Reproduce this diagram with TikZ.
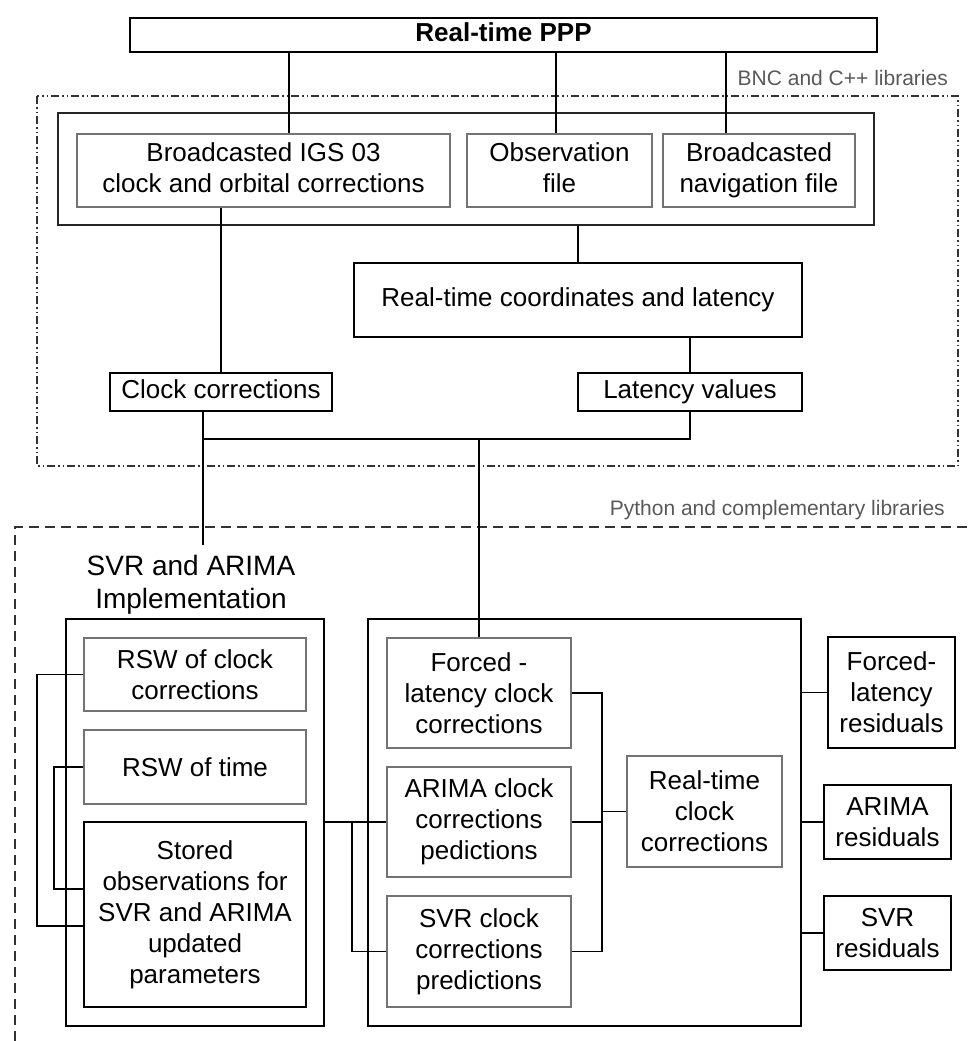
\documentclass[tikz,border=0pt]{standalone}
\usepackage{fontspec}
\setmainfont{Liberation Sans}
\newcommand\fsMain{\fontsize{26}{31}\selectfont}
\newcommand\fsHead{\fontsize{28}{33}\selectfont}
\newcommand\fsLab{\fontsize{21}{25}\selectfont}
\begin{document}
\begin{tikzpicture}[x=1pt,y=-1pt,
  bbox/.style={draw=black, line width=1.5pt, inner sep=0pt, align=center, font=\fsMain},
  gbox/.style={draw=black!55, line width=1.1pt, inner sep=0pt, align=center, font=\fsMain},
  conn/.style={draw=black, line width=1.3pt},
  lab/.style={inner sep=0pt, font=\fsLab, text=black!65},
  dashdotframe/.style={draw=black!80, line width=1.2pt, dash pattern=on 8pt off 3pt on 1.5pt off 3pt on 1.5pt off 3pt},
  dashframe/.style={draw=black!80, line width=1.2pt, dash pattern=on 10pt off 6pt}]
\useasboundingbox (0,0) rectangle (971,1041);
\fill[white] (0,0) rectangle (971,1041);

% frames
\draw[dashdotframe] (37,96) rectangle (958,466);
\draw[dashframe] (15,1041) -- (15,527) -- (971,527);
\node[lab, anchor=base east] (bnclab) at (948,85) {BNC and C++ libraries};
\node[lab, anchor=base east] (pylab) at (945,515) {Python and complementary libraries};

% top part
\node[bbox, line width=2pt, minimum width=747pt, minimum height=34pt, font=\fsMain\bfseries] (ppp) at (503.5,35) {Real-time PPP\vphantom{g}};
\node[draw=black!85, line width=2pt, minimum width=816pt, minimum height=112pt, inner sep=0pt] (outer1) at (466,169) {};
\node[gbox, minimum width=373pt, minimum height=73pt] (igs) at (263.5,170.5) {Broadcasted IGS 03\\clock and orbital corrections\vphantom{g}};
\node[gbox, minimum width=185pt, minimum height=73pt] (obs) at (559.5,170.5) {Observation\\file\vphantom{g}};
\node[gbox, minimum width=192pt, minimum height=73pt] (nav) at (759,170.5) {Broadcasted\\navigation file};
\node[bbox, minimum width=448pt, minimum height=74pt] (rtc) at (578,300) {Real-time coordinates and latency};
\node[bbox, minimum width=222pt, minimum height=38pt] (clk) at (221,392) {Clock corrections\vphantom{y}};
\node[bbox, minimum width=224pt, minimum height=38pt] (lat) at (690,392) {Latency values};

\coordinate (p1) at (289,0);
\coordinate (p2) at (556,0);
\coordinate (p3) at (726,0);
\draw[conn] (ppp.south -| p1) -- (igs.north -| p1);
\draw[conn] (ppp.south -| p2) -- (obs.north -| p2);
\draw[conn] (ppp.south -| p3) -- (nav.north -| p3);
\draw[conn] (clk.north |- igs.south) -- (clk.north);
\draw[conn] (rtc.north |- outer1.south) -- (rtc.north);
\draw[conn] (lat.north |- rtc.south) -- (lat.north);

% bus
\coordinate (b1) at (203,439);
\coordinate (hend) at (203,545);
\draw[conn] (clk.south -| b1) -- (b1) -- (b1 -| lat.south) -- (lat.south);
\draw[conn] (b1) -- (hend);

% lower left
\node[inner sep=0pt, align=center, font=\fsHead] (head) at (191,585) {SVR and ARIMA\\Implementation};
\node[bbox, minimum width=258pt, minimum height=407pt] (lout) at (195,822.5) {};
\node[gbox, minimum width=222pt, minimum height=73pt] (rswc) at (195,674.5) {RSW of clock\\corrections};
\node[gbox, minimum width=222pt, minimum height=74pt] (rswt) at (195,767) {RSW of time};
\node[bbox, minimum width=222pt, minimum height=185pt] (stored) at (195,914.5) {Stored\\observations for\\SVR and ARIMA\\updated\\parameters};
\coordinate (l1) at (37,926);
\coordinate (l2) at (54,889);
\draw[conn] (rswc.west) -| (l1) -- (l1 -| stored.west);
\draw[conn] (rswt.west) -| (l2) -- (l2 -| stored.west);

% lower middle
\node[bbox, minimum width=433pt, minimum height=407pt] (mout) at (584.5,822.5) {};
\node[gbox, minimum width=184pt, minimum height=110pt] (fcc) at (479,693) {Forced -\\latency clock\\corrections};
\node[gbox, minimum width=184pt, minimum height=110pt] (acc) at (479,822) {ARIMA clock\\corrections\\pedictions};
\node[gbox, minimum width=184pt, minimum height=111pt] (scc) at (479,951.5) {SVR clock\\corrections\\predictions};
\node[gbox, minimum width=155pt, minimum height=111pt] (rtcc) at (704.5,811.5) {Real-time\\clock\\corrections};

\coordinate (b2) at (fcc.north |- b1);
\draw[conn] (b2) -- (fcc.north);

\coordinate (m1) at (352,822);
\draw[conn] (lout.east |- acc.west) -- (acc.west);
\draw[conn] (m1) |- (scc.west);

\coordinate (r1) at (602,0);
\draw[conn] (fcc.east) -| (r1 |- scc.east) -- (scc.east);
\draw[conn] (acc.east) -- (acc.east -| r1);
\draw[conn] (r1 |- rtcc.west) -- (rtcc.west);

% residuals
\node[bbox, minimum width=127pt, minimum height=111pt] (flr) at (891.5,692.5) {Forced-\\latency\\residuals};
\node[bbox, minimum width=127pt, minimum height=74pt] (arr) at (887.5,822) {ARIMA\\residuals};
\node[bbox, minimum width=127pt, minimum height=74pt] (svr) at (887.5,933) {SVR\\residuals};
\draw[conn] (mout.east |- flr.west) -- (flr.west);
\draw[conn] (mout.east |- arr.west) -- (arr.west);
\draw[conn] (mout.east |- svr.west) -- (svr.west);
\end{tikzpicture}
\end{document}
